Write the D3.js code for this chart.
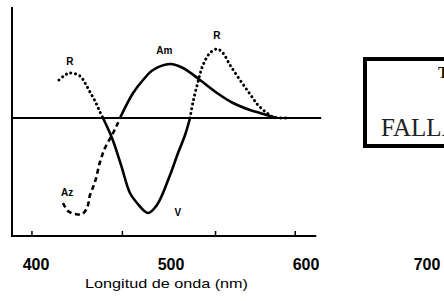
<!DOCTYPE html>
<html><head><meta charset="utf-8">
<script src="https://cdn.jsdelivr.net/npm/d3@7/dist/d3.min.js"></script>
<style>html,body{margin:0;padding:0;background:#fff;}svg{display:block;}</style>
</head><body>
<script>
// Wavelength (nm) and relative opponent responses
const rgWavelengths = [417.0,421.5,425.2,432.6,436.3,440.0,443.7,447.4,449.6,456.3,463.0,469.6,474.8,483.0,489.6,499.3,505.2,510.4,514.1,516.3,520.0,523.7,528.9,534.1,538.5,543.7,551.1,558.5,564.4,571.1,575.6,588.1];
const rgValues      = [0.38,0.43,0.45,0.42,0.35,0.26,0.17,0.06,0.00,-0.20,-0.47,-0.75,-0.85,-0.95,-0.87,-0.57,-0.35,-0.17,0.00,0.16,0.36,0.53,0.65,0.69,0.65,0.53,0.38,0.24,0.13,0.05,0.01,0.00];
const ybWavelengths = [420.0,423.7,428.9,434.1,437.8,440.0,443.7,447.4,451.1,456.3,460.0,462.2,471.9,479.3,486.7,499.3,508.9,521.5,534.1,545.9,558.5,565.9,573.3,577.0];
const ybValues      = [-0.85,-0.93,-0.96,-0.96,-0.90,-0.77,-0.64,-0.44,-0.30,-0.17,-0.07,0.00,0.25,0.38,0.48,0.54,0.50,0.38,0.25,0.15,0.08,0.05,0.02,0.00];
const tickLabels = [400,500,600,700];
const tickMarks = [397,464,533,592];
const curveLabels = [
  {text:"R", nm:425, v:0.53},
  {text:"R", nm:534, v:0.79},
  {text:"Am", nm:495, v:0.64},
  {text:"Az", nm:423, v:-0.78},
  {text:"V", nm:505, v:-0.98}
];
const xTitle = "Longitud de onda (nm)";

const W = 444, H = 301;
const svg = d3.select("body").append("svg").attr("width", W).attr("height", H);
const x = d3.scaleLinear().domain([400,600,700]).range([36,306,427]);
const y = d3.scaleLinear().domain([-1,1]).range([218,18]);

const axisStart = 382.2, axisEnd = 608.5, zeroEnd = 612.5;
const yBottom = -1.18, yTop = 1.11;

// axes
svg.append("line").attr("x1", x(axisStart)).attr("x2", x(axisStart)).attr("y1", y(yTop)).attr("y2", y(yBottom))
  .attr("stroke","#000").attr("stroke-width",2);
svg.append("line").attr("x1", x(axisStart)-1).attr("x2", x(axisEnd)).attr("y1", y(yBottom)).attr("y2", y(yBottom))
  .attr("stroke","#000").attr("stroke-width",2);
svg.selectAll(".tm").data(tickMarks).enter().append("line")
  .attr("x1", d=>x(d)).attr("x2", d=>x(d)).attr("y1", y(yBottom)).attr("y2", y(yBottom)-5)
  .attr("stroke","#000").attr("stroke-width",1.5);
// zero line
svg.append("line").attr("x1", x(axisStart)).attr("x2", x(zeroEnd)).attr("y1", y(0)).attr("y2", y(0))
  .attr("stroke","#000").attr("stroke-width",2);

// tick labels
svg.selectAll(".tl").data(tickLabels).enter().append("text")
  .attr("x", d=>x(d)).attr("y", 270).attr("text-anchor","middle")
  .attr("font-family","Liberation Sans, Arial, sans-serif").attr("font-weight","bold").attr("font-size",16)
  .text(d=>d);
svg.append("text").attr("x", 85).attr("y", 288)
  .attr("font-family","Liberation Sans, Arial, sans-serif").attr("font-size",13.5)
  .attr("textLength",163).attr("lengthAdjust","spacingAndGlyphs")
  .text(xTitle);

// curves
const rg = rgWavelengths.map((w,i)=>({w, v:rgValues[i]}));
const yb = ybWavelengths.map((w,i)=>({w, v:ybValues[i]}));
const mk = (def) => d3.line().x(d=>x(d.w)).y(d=>y(d.v)).defined(def).curve(d3.curveCatmullRom.alpha(0.5));

// R (positive, dotted)
svg.append("path").attr("d", mk(d=>d.v>=0)(rg)).attr("fill","none").attr("stroke","#000")
  .attr("stroke-width",3).attr("stroke-linecap","round").attr("stroke-dasharray","0.1 4.6");
// V (negative, solid)
svg.append("path").attr("d", mk(d=>d.v<=0)(rg)).attr("fill","none").attr("stroke","#000")
  .attr("stroke-width",2.6);
// Am (positive, solid)
svg.append("path").attr("d", mk(d=>d.v>=0)(yb)).attr("fill","none").attr("stroke","#000")
  .attr("stroke-width",2.6);
// Az (negative, dashed)
svg.append("path").attr("d", mk(d=>d.v<=0)(yb)).attr("fill","none").attr("stroke","#000")
  .attr("stroke-width",2.6).attr("stroke-dasharray","5 3.5");

// curve labels
svg.selectAll(".cl").data(curveLabels).enter().append("text")
  .attr("x", d=>x(d.nm)).attr("y", d=>y(d.v)).attr("text-anchor","middle")
  .attr("font-family","Liberation Sans, Arial, sans-serif").attr("font-weight","bold").attr("font-size",10)
  .text(d=>d.text);

// stamp box (partially visible, cut by the page edge as in the scan)
svg.append("rect").attr("x",365).attr("y",59).attr("width",100).attr("height",87)
  .attr("fill","none").attr("stroke","#000").attr("stroke-width",4);
svg.append("text").attr("x",381).attr("y",136)
  .attr("font-family","Liberation Serif, serif").attr("font-size",25).attr("fill","#222")
  .text("FALLA DE ORIGEN");
svg.append("text").attr("x",438).attr("y",78)
  .attr("font-family","Liberation Serif, serif").attr("font-weight","bold").attr("font-size",16).attr("fill","#111")
  .text("TESIS CON");
</script>
</body></html>
